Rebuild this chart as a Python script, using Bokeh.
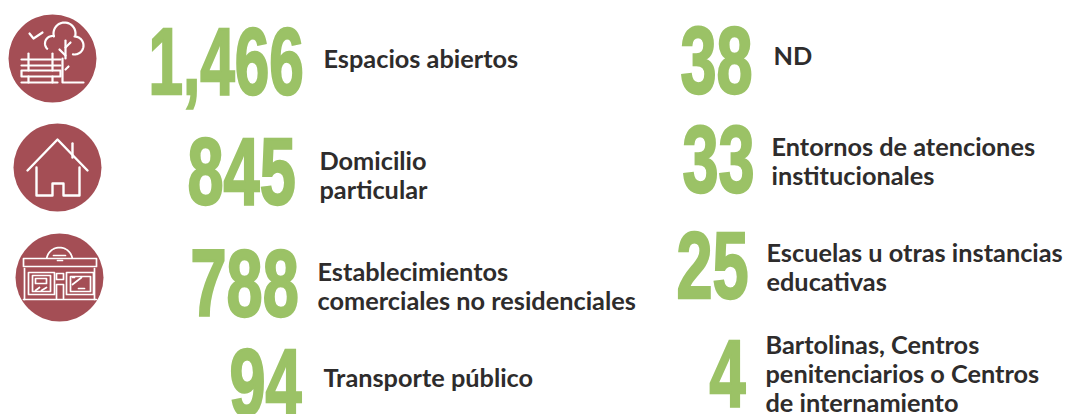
import math
from bokeh.plotting import figure
from bokeh.models import Range1d
from bokeh.core.properties import value
from bokeh.embed import file_html
from bokeh.resources import INLINE

W, H = 1070, 414
GREEN = "#9BC266"
ROSE = "#A44E55"
INK = "#2E2C2C"

# ---- chart content -------------------------------------------------------
counts = ["1,466", "845", "788", "94", "38", "33", "25", "4"]
labels = [
    "Espacios abiertos",
    "Domicilio\nparticular",
    "Establecimientos\ncomerciales no residenciales",
    "Transporte público",
    "ND",
    "Entornos de atenciones\ninstitucionales",
    "Escuelas u otras instancias\neducativas",
    "Bartolinas, Centros\npenitenciarios o Centros\nde internamiento",
]

# ---- layout, in page pixels ---------------------------------------------
count_left = [148, 187, 190, 229, 680, 682, 676, 709]
count_base = [94, 204, 316, 415, 93, 192, 298, 406]
baseline_shift = 34
label_x = [323, 319, 317, 323, 773, 771, 766, 765]
label_first_y = [57, 159, 270, 376, 54, 145, 251, 343]
line_step = 29

p = figure(width=W, height=H, x_range=Range1d(0, W), y_range=Range1d(H, 0),
           output_backend="svg", toolbar_location=None, min_border=0,
           outline_line_color=None, background_fill_color="white",
           border_fill_color="white")
p.axis.visible = False
p.grid.visible = False

# ---- badges --------------------------------------------------------------
bx = [52, 57, 59]
by = [58, 167, 277]
p.scatter(bx, by, size=88, marker="circle", fill_color=ROSE, line_color=None)

def strokes(paths, w=2.2):
    p.multi_line([[q[0] for q in s] for s in paths], [[q[1] for q in s] for s in paths],
                 line_color="white", line_width=w, line_cap="round", line_join="round")

def arc(cx, cy, r, a0, a1, n=24):
    return [(cx + r * math.cos(math.radians(a0 + (a1 - a0) * i / n)),
             cy - r * math.sin(math.radians(a0 + (a1 - a0) * i / n))) for i in range(n + 1)]

# park icon
strokes([
    [(21, 59), (60, 59)], [(21, 65), (60, 65)],
    [(21, 70), (60, 70), (60, 76), (21, 76), (21, 70)],
    [(21, 82), (57, 82)],
    [(28, 53), (28, 70)], [(52, 53), (52, 70)], [(28, 76), (28, 82)], [(52, 76), (52, 82)],
    [(62, 58), (62, 82), (83, 82)],
    [(65, 40), (65, 58)], [(59, 49), (65, 55)], [(65, 47), (70, 42)], [(65, 69), (68, 66)],
    arc(74, 45, 9, 90, -100),
    arc(64, 33, 11, 195, -10),
    arc(52, 43, 7.5, 225, 80),
    [(29, 33), (33, 38), (42, 32)],
])
# house icon
strokes([
    [(27, 170), (57, 139), (87, 170)],
    [(72, 143), (72, 157)],
    [(36, 167), (36, 195), (52, 195), (52, 183), (63, 183), (63, 195), (79, 195), (79, 167)],
], 2.4)
# shop icon
strokes([
    [(23, 258), (96, 258), (96, 266), (23, 266), (23, 258)],
    arc(59, 260, 13, 10, 170),
    [(53, 255), (65, 255)], [(57, 260), (62, 260)],
    [(24, 268), (24, 299)], [(94, 268), (94, 299)],
    [(23, 299), (96, 299)],
    [(28, 272), (54, 272), (54, 294), (28, 294), (28, 272)],
    [(32, 275), (50, 275), (50, 291), (32, 291), (32, 275)],
    [(35, 278), (46, 278), (46, 283), (35, 283), (35, 278)],
    [(35, 290), (39, 287)], [(41, 290), (46, 287)],
    [(56, 273), (63, 273), (63, 279), (56, 279), (56, 273)],
    [(56, 298), (56, 284), (63, 284), (63, 298)],
    [(66, 272), (93, 272), (93, 294), (66, 294), (66, 272)],
    [(70, 276), (90, 276), (90, 291), (70, 291), (70, 276)],
    [(72, 284), (81, 277)], [(78, 288), (84, 288)], [(72, 277), (74, 277)],
], 1.7)

# ---- counts --------------------------------------------------------------
p.text(count_left, [b - baseline_shift for b in count_base], text=counts,
       text_font=value("Liberation Sans"), text_font_style="bold", text_font_size="94px",
       text_color=GREEN, text_align="left", text_baseline="alphabetic")

# ---- labels --------------------------------------------------------------
xs, ys, ts = [], [], []
for x, y0, lab in zip(label_x, label_first_y, labels):
    for i, line in enumerate(lab.split("\n")):
        xs.append(x); ys.append(y0 + i * line_step); ts.append(line)
p.text(xs, ys, text=ts, text_font=value("Lato"), text_font_style="bold",
       text_font_size="25.3px", text_color=INK, text_align="left", text_baseline="middle")

# The reference's numerals are in a very condensed face, which is not installed:
# narrow the real text elements of the SVG horizontally, keeping their own placement.
narrow = """
<script>
(function(){
  function walk(root){
    root.querySelectorAll('*').forEach(function(el){
      if (el.shadowRoot) walk(el.shadowRoot);
      if (el.tagName && el.tagName.toLowerCase()==='text' && /^[0-9,]+$/.test(el.textContent)
          && !el.hasAttribute('data-narrowed')) {
        var t=el.getAttribute('transform')||'';
        var s=el.textContent.indexOf(',')>=0 ? 0.66 : 0.69;
        el.setAttribute('data-narrowed','1');
        el.setAttribute('transform',t+' scale('+s+',1)');
        el.setAttribute('stroke','#9BC266');
        el.setAttribute('stroke-width','2.4');
      }
    });
  }
  var n=0, t=setInterval(function(){ walk(document); if(++n>40) clearInterval(t); },100);
})();
</script>
"""
html = file_html(p, INLINE).replace("<head>", "<head><style>html,body{margin:0;overflow:hidden}</style>", 1)
html = html.replace("</body>", narrow + "</body>", 1)
open("out.html", "w").write(html)
